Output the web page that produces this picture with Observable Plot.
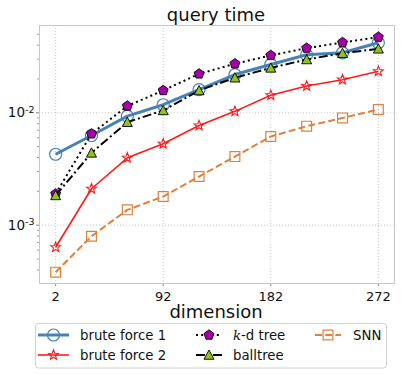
<!DOCTYPE html>
<html><head><meta charset="utf-8">
<script src="https://cdn.jsdelivr.net/npm/d3@7"></script>
<script src="https://cdn.jsdelivr.net/npm/@observablehq/plot@0.6"></script>
<style>body{margin:0;background:#fff} #chart svg{font-family:"DejaVu Sans",sans-serif;overflow:visible}</style>
</head><body><div id="chart"></div><script>
// ---- data ----
const dims = [2, 32, 62, 92, 122, 152, 182, 212, 242, 272];
const bruteForce1 = [4.28e-3, 6.28e-3, 9.33e-3, 1.18e-2, 1.61e-2, 2.19e-2, 2.69e-2, 3.28e-2, 3.42e-2, 4.2e-2];
const bruteForce2 = [6.37e-4, 2.11e-3, 3.98e-3, 5.3e-3, 7.7e-3, 1.03e-2, 1.43e-2, 1.73e-2, 1.97e-2, 2.34e-2];
const kdTree      = [1.9e-3, 6.5e-3, 1.15e-2, 1.58e-2, 2.22e-2, 2.73e-2, 3.24e-2, 3.76e-2, 4.22e-2, 4.71e-2];
const ballTree    = [1.84e-3, 4.4e-3, 8.25e-3, 1.05e-2, 1.58e-2, 2.05e-2, 2.51e-2, 2.98e-2, 3.39e-2, 3.71e-2];
const snn         = [3.82e-4, 7.98e-4, 1.37e-3, 1.8e-3, 2.71e-3, 4.08e-3, 6.15e-3, 7.6e-3, 9.0e-3, 1.07e-2];
const seriesNames = ["brute force 1", "brute force 2", "k-d tree", "balltree", "SNN"];
const seriesValues = [bruteForce1, bruteForce2, kdTree, ballTree, snn];
const xTicks = [2, 92, 182, 272];
const yTicks = [1e-3, 1e-2];
const yMinorTicks = [4e-4,5e-4,6e-4,7e-4,8e-4,9e-4,2e-3,3e-3,4e-3,5e-3,6e-3,7e-3,8e-3,9e-3,2e-2,3e-2,4e-2,5e-2];
const titleText = "query time";
const xLabelText = "dimension";

// ---- symbols ----
function poly(pts){ return {draw(ctx, size){ const R = Math.sqrt(size/Math.PI); pts.forEach(([a,b],i)=> i?ctx.lineTo(a*R,b*R):ctx.moveTo(a*R,b*R)); ctx.closePath(); }}; }
const pentagon = poly(d3.range(5).map(k=>{const t=-Math.PI/2+k*2*Math.PI/5; return [Math.cos(t),Math.sin(t)];}));
const star = poly(d3.range(10).map(k=>{const t=-Math.PI/2+k*Math.PI/5; const r=k%2?0.42:1; return [r*Math.cos(t),r*Math.sin(t)];}));
const triangle = poly([[0,-1],[-1,0.85],[1,0.85]]);
const square = poly([[-0.85,-0.85],[0.85,-0.85],[0.85,0.85],[-0.85,0.85]]);

const styles = {
  "brute force 1": {stroke:"#4682b4", sw:3, dash:null, symbol:"circle", r:6, fill:"none", mstroke:"#4682b4", msw:1.2},
  "brute force 2": {stroke:"#ff1a1a", sw:1.6, dash:null, symbol:star, r:5.2, fill:"none", mstroke:"#ff1a1a", msw:1.1},
  "k-d tree":      {stroke:"#000", sw:2, dash:"2,3.2", symbol:pentagon, r:5.2, fill:"#a800a8", mstroke:"#000", msw:0.9},
  "balltree":      {stroke:"#000", sw:2, dash:"9,3,2,3", symbol:triangle, r:5, fill:"#8fc320", mstroke:"#000", msw:0.9},
  "SNN":           {stroke:"#e0803c", sw:2, dash:"7,3.2", symbol:square, r:5.8, fill:"none", mstroke:"#e0803c", msw:1.2}
};

const rows = seriesNames.map((name,i)=> dims.map((d,j)=>({name, x:d, y:seriesValues[i][j]})));

const marks = [
  Plot.gridX(xTicks, {stroke:"#bbb", strokeOpacity:1, strokeDasharray:"1,2", strokeWidth:0.8}),
  Plot.gridY(yTicks, {stroke:"#bbb", strokeOpacity:1, strokeDasharray:"1,2", strokeWidth:0.8}),
  Plot.tickY(yMinorTicks, {y:d=>d, stroke:"#888", strokeWidth:0.8}),
  Plot.axisY(yTicks, {tickSize:3, stroke:"#888", tickPadding:2, fontSize:13.5, fill:"#111", tickFormat:d=>"10^"+Math.round(Math.log10(d)), label:null}),
  Plot.axisX(xTicks, {tickSize:3, stroke:"#888", tickPadding:5, fontSize:13, fill:"#111", label:null}),
  Plot.frame({stroke:"#c8c8c8", strokeWidth:1})
];
rows.forEach((data,i)=>{
  const s = styles[seriesNames[i]];
  marks.push(Plot.line(data, {x:"x", y:"y", stroke:s.stroke, strokeWidth:s.sw, strokeDasharray:s.dash, strokeLinecap:"butt"}));
  marks.push(Plot.dot(data, {x:"x", y:"y", symbol:s.symbol, r:s.r, fill:s.fill, stroke:s.mstroke, strokeWidth:s.msw}));
});

const chart = Plot.plot({
  width:401, height:375,
  marginLeft:39, marginRight:7, marginTop:25, marginBottom:92,
  x:{domain:[-11.5, 285.5]},
  y:{type:"log", domain:[3.03e-4, 5.98e-2]},
  style:{fontFamily:"DejaVu Sans, sans-serif", background:"#fff"},
  marks
});
document.getElementById("chart").append(chart);

const svg = d3.select(chart);
// minor ticks: short outward marks at the left edge
svg.selectAll('g[aria-label="tick"] line').attr("x1", 37).attr("x2", 39);
// superscripts on y tick labels
svg.selectAll('g[aria-label="y-axis tick label"] text').each(function(){
  const t = d3.select(this); const s = t.text(); if (!s.includes("^")) return;
  const [b,e] = s.split("^");
  t.text(null);
  t.append("tspan").text(b);
  t.append("tspan").attr("dy","-0.45em").attr("font-size","9.5px").text(e);
});
// title & x label
svg.append("text").attr("x",216).attr("y",21).attr("text-anchor","middle").attr("font-size",18).attr("fill","#111").text(titleText);
svg.append("text").attr("x",216).attr("y",318).attr("text-anchor","middle").attr("font-size",18).attr("fill","#111").text(xLabelText);

// legend
const lg = svg.append("g").attr("text-anchor","start");
lg.append("rect").attr("x",35.5).attr("y",323.5).attr("width",351).attr("height",44.5).attr("rx",3).attr("fill","#fff").attr("stroke","#d0d0d0");
const legendPos = [[38,335],[38,355],[196,335],[196,355],[315,335]];
const handleW = [31,31,26,26,26];
const textX = [80,80,233,233,353];
seriesNames.forEach((name,i)=>{
  const s = styles[name]; const [x0,y0] = legendPos[i]; const w = handleW[i];
  lg.append("line").attr("x1",x0).attr("x2",x0+w).attr("y1",y0).attr("y2",y0).attr("stroke",s.stroke).attr("stroke-width",s.sw).attr("stroke-dasharray",s.dash);
  const sym = typeof s.symbol === "string" ? d3.symbolCircle : s.symbol;
  lg.append("path").attr("d", d3.symbol(sym, s.r*s.r*Math.PI)()).attr("transform",`translate(${x0+w/2},${y0})`)
    .attr("fill",s.fill).attr("stroke",s.mstroke).attr("stroke-width",s.msw);
  const t = lg.append("text").attr("x",textX[i]).attr("y",y0).attr("dy","0.36em").attr("text-anchor","start").attr("font-size",13.3).attr("fill","#111");
  if (name.startsWith("k-")) {
    t.append("tspan").attr("font-family","DejaVu Serif, serif").attr("font-style","italic").text("k");
    t.append("tspan").text(name.slice(1));
  } else t.text(name);
});
</script></body></html>
